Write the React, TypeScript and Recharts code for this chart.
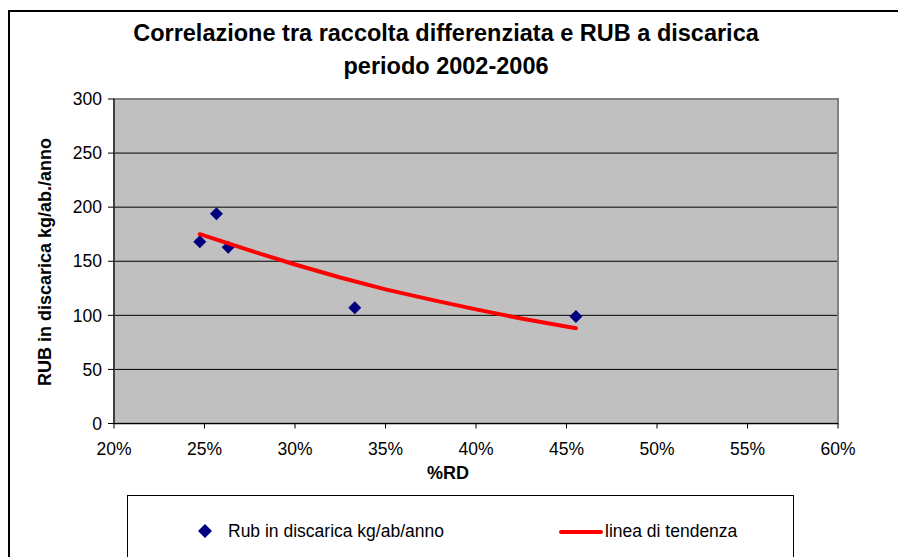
import { ScatterChart, Scatter, XAxis, YAxis, CartesianGrid, ReferenceArea } from 'recharts'

// %RD (raccolta differenziata) and RUB in discarica (kg/ab/anno)
const rdPercent = [24.74, 25.66, 26.31, 33.3, 45.52]
const rubKg = [168, 194, 163, 107, 99]

// trendline
const trendX = [24.74, 27.5, 30, 32.5, 35, 37.5, 40, 42.5, 45.52]
const trendY = [175, 160, 147, 135, 124, 114.5, 105.5, 97, 88]

const xTicks = [20, 25, 30, 35, 40, 45, 50, 55, 60]
const yTicks = [0, 50, 100, 150, 200, 250, 300]

const SERIES_NAMES = ['Rub in discarica kg/ab/anno', 'linea di tendenza']
const TITLE = ['Correlazione tra raccolta differenziata e RUB a discarica', 'periodo 2002-2006']

const points = rdPercent.map((x, i) => ({ x, y: rubKg[i] }))
const trend = trendX.map((x, i) => ({ x, y: trendY[i] }))

const FONT = '"Liberation Sans", Arial, sans-serif'

const Diamond = (props: any) => {
  const { cx, cy } = props
  const r = 6.5
  return <polygon points={`${cx},${cy - r} ${cx + r},${cy} ${cx},${cy + r} ${cx - r},${cy}`} fill="#000080" />
}

const NoDot = () => <g />

export default function App() {
  return (
    <div style={{ position: 'relative', width: 898, height: 557, background: '#fff', overflow: 'hidden', fontFamily: FONT }}>
      <style>{'body{margin:0}'}</style>
      <div
        style={{
          position: 'absolute',
          left: 8,
          top: 10,
          width: 960,
          height: 700,
          border: '2px solid #000',
          boxSizing: 'border-box',
        }}
      />
      <div style={{ position: 'absolute', left: 0, top: 0 }}>
        <ScatterChart width={898} height={557} margin={{ top: 99, right: 60, bottom: 103.5, left: 54 }}>
          <CartesianGrid vertical={false} stroke="#000" fill="#C0C0C0" fillOpacity={1} />
          <ReferenceArea x1={20} x2={60} y1={0} y2={300} fill="none" stroke="#808080" strokeWidth={2} />
          <XAxis
            type="number"
            dataKey="x"
            domain={[20, 60]}
            ticks={xTicks}
            tickFormatter={(v: number) => `${v}%`}
            height={30}
            tickSize={5}
            tickMargin={14}
            stroke="#000"
            tick={{ fill: '#000', fontSize: 17.5, fontFamily: FONT }}
          />
          <YAxis
            type="number"
            dataKey="y"
            domain={[0, 300]}
            ticks={yTicks}
            width={60}
            tickSize={6}
            tickMargin={6}
            stroke="#000"
            tick={{ fill: '#000', fontSize: 17.5, fontFamily: FONT }}
          />
          <Scatter name={SERIES_NAMES[0]} data={points} shape={Diamond} isAnimationActive={false} />
          <Scatter
            name={SERIES_NAMES[1]}
            data={trend}
            line={{ stroke: '#FF0000', strokeWidth: 4, strokeLinecap: 'round' }}
            lineType="joint"
            shape={NoDot}
            isAnimationActive={false}
          />
          <text x={446} y={41} textAnchor="middle" fontSize={23.5} fontWeight="bold" fontFamily={FONT} fill="#000">
            {TITLE[0]}
          </text>
          <text x={446} y={74} textAnchor="middle" fontSize={23.5} fontWeight="bold" fontFamily={FONT} fill="#000">
            {TITLE[1]}
          </text>
          <text x={448} y={479} textAnchor="middle" fontSize={18} fontWeight="bold" fontFamily={FONT} fill="#000">
            %RD
          </text>
          <text
            x={51}
            y={262}
            textAnchor="middle"
            fontSize={18}
            fontWeight="bold"
            fontFamily={FONT}
            fill="#000"
            transform="rotate(-90 51 262)"
          >
            RUB in discarica kg/ab./anno
          </text>
        </ScatterChart>
      </div>
      <div
        style={{
          position: 'absolute',
          left: 127,
          top: 495,
          width: 667,
          height: 100,
          border: '1px solid #000',
          boxSizing: 'border-box',
          background: '#fff',
        }}
      >
        <svg width={20} height={20} style={{ position: 'absolute', left: 67, top: 25 }}>
          <polygon points="10,3 17,10 10,17 3,10" fill="#000080" />
        </svg>
        <span style={{ position: 'absolute', left: 100, top: 25, fontSize: 17.5, lineHeight: '20px', whiteSpace: 'nowrap' }}>
          {SERIES_NAMES[0]}
        </span>
        <div style={{ position: 'absolute', left: 431, top: 34, width: 44, height: 4, background: '#FF0000', borderRadius: 2 }} />
        <span style={{ position: 'absolute', left: 477, top: 25, fontSize: 17.5, lineHeight: '20px', whiteSpace: 'nowrap' }}>
          {SERIES_NAMES[1]}
        </span>
      </div>
    </div>
  )
}
